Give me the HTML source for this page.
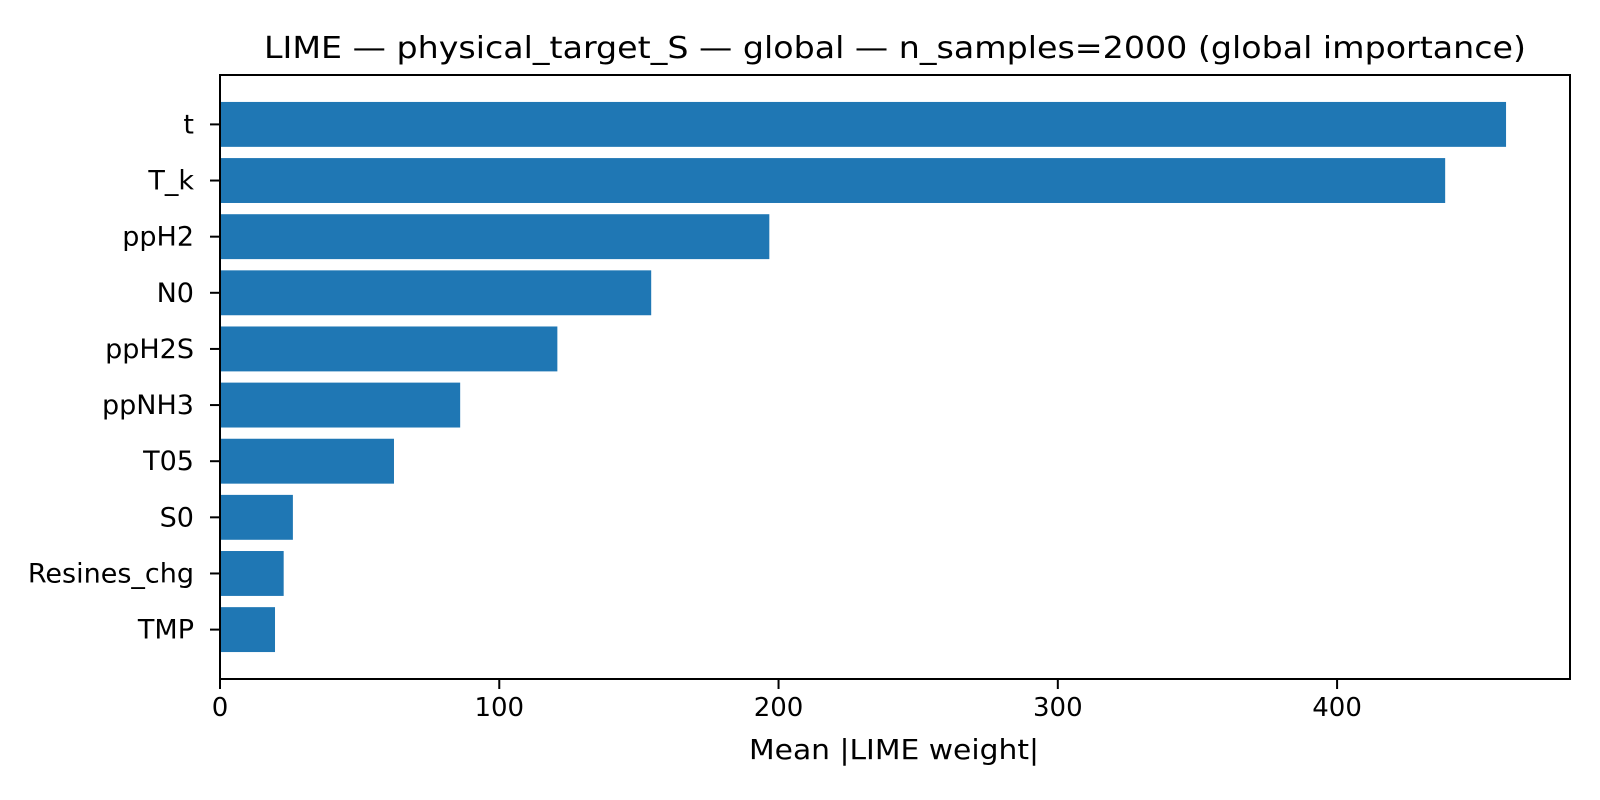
<!DOCTYPE html>
<html><head><meta charset="utf-8"><style>body{margin:0;background:#fff}svg{display:block;font-family:"DejaVu Sans","Liberation Sans",sans-serif}</style></head>
<body>
<svg id="chart" width="1600" height="800" xmlns="http://www.w3.org/2000/svg">
<text x="895" y="58" font-size="30" text-anchor="middle" textLength="1262" lengthAdjust="spacingAndGlyphs">LIME — physical_target_S — global — n_samples=2000 (global importance)</text>
<g id="bars"></g>
<g id="axes"></g>
<text x="894" y="759" font-size="28" text-anchor="middle" textLength="290" lengthAdjust="spacingAndGlyphs">Mean |LIME weight|</text>
</svg>
<script>
const categories = ["t","T_k","ppH2","N0","ppH2S","ppNH3","T05","S0","Resines_chg","TMP"];
const values = [460.5,438.7,196.7,154.4,120.8,86,62.3,26.1,22.8,19.7];
const xTicks = [0,100,200,300,400];
const xMax = 483.4;
const L=220,R=1570,T=75,B=679;
const NS="http://www.w3.org/2000/svg";
function xs(v){return L+(v/xMax)*(R-L);}
const step=(B-T)/(categories.length+0.76);
function yc(i){return T+step*0.88+i*step;}
const bars=document.getElementById('bars'),axes=document.getElementById('axes');
function mk(tag,attrs,parent){const e=document.createElementNS(NS,tag);for(const k in attrs)e.setAttribute(k,attrs[k]);parent.appendChild(e);return e;}
categories.forEach((c,i)=>{
  const h=step*0.8;
  const r=mk('rect',{x:L,y:yc(i)-h/2,width:xs(values[i])-L,height:h,fill:'#1f77b4'},bars);
  
  
  const tk=mk('line',{x1:L-10,x2:L,y1:yc(i),y2:yc(i),stroke:'#000','stroke-width':2},axes);
  
  
  const t=mk('text',{x:L-26,y:yc(i)+9,'font-size':27,'text-anchor':'end'},axes);
  t.textContent=c;
  
  
});
xTicks.forEach(v=>{
  const tk=mk('line',{x1:xs(v),x2:xs(v),y1:B,y2:B+10,stroke:'#000','stroke-width':2},axes);
  
  
  const t=mk('text',{x:xs(v),y:B+37,'font-size':26,'text-anchor':'middle'},axes);
  t.textContent=v;
  
  
});
const f=mk('rect',{x:L,y:T,width:R-L,height:B-T,fill:'none',stroke:'#000','stroke-width':2},axes);


</script>
</body></html>
